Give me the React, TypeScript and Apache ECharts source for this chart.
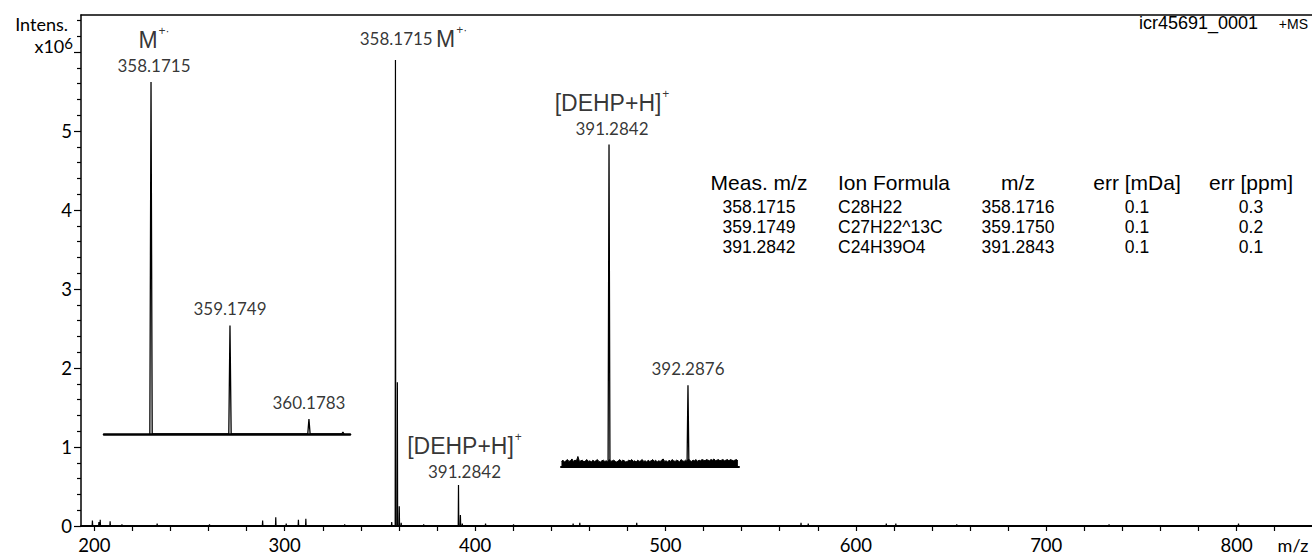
import React, { useEffect, useRef } from "react";
import * as echarts from "echarts";

// ---------- data ----------
// Main spectrum: stick peaks (m/z, intensity x10^6)
const mainMz = [
  199.0, 202.4, 203.1, 208.3, 214.5, 233.0, 260.5, 288.4, 295.3, 300.8,
  307.2, 311.1, 331.5, 356.2, 358.1715, 359.1749, 360.1783, 361.18, 373.0, 391.2842,
  392.2876, 393.29, 405.5, 420.2, 451.5, 455.0, 484.9, 571.2, 575.0, 616.0,
  621.0, 653.0, 733.0, 801.0,
];
const mainInt = [
  0.07, 0.05, 0.08, 0.06, 0.02, 0.03, 0.02, 0.07, 0.11, 0.03,
  0.08, 0.09, 0.02, 0.05, 5.9, 1.82, 0.25, 0.04, 0.02, 0.52,
  0.14, 0.03, 0.03, 0.02, 0.03, 0.04, 0.04, 0.04, 0.03, 0.03,
  0.03, 0.02, 0.02, 0.03,
];

// Inset 1: M+. isotope cluster
const inset1Mz = [358.1715, 359.1749, 360.1783, 360.61];
const inset1Int = [5.9, 1.82, 0.25, 0.03];

// Inset 2: [DEHP+H]+ isotope cluster
const inset2Mz = [391.2842, 392.2876];
const inset2Int = [0.52, 0.132];
const inset2NoiseStart = 390.68;
const inset2NoiseStep = 0.019;
const inset2Noise = [
  0.009, 0.011, 0.008, 0.010, 0.012, 0.009, 0.010, 0.013, 0.009, 0.011,
  0.010, 0.017, 0.009, 0.010, 0.011, 0.008, 0.010, 0.012, 0.009, 0.010,
  0.008, 0.011, 0.009, 0.010, 0.012, 0.009, 0.008, 0.010, 0.011, 0.009,
  0.010, 0.008, 0.012, 0.009, 0.010, 0.011, 0.009, 0.008, 0.010, 0.012,
  0.009, 0.011, 0.010, 0.008, 0.009, 0.011, 0.010, 0.012, 0.009, 0.010,
  0.008, 0.011, 0.009, 0.010, 0.012, 0.009, 0.010, 0.008, 0.011, 0.009,
  0.010, 0.012, 0.009, 0.011, 0.008, 0.010, 0.009, 0.011, 0.013, 0.009,
  0.010, 0.008, 0.011, 0.009, 0.012, 0.010, 0.009, 0.011, 0.010, 0.008,
  0.012, 0.010, 0.009, 0.011, 0.009, 0.013, 0.010, 0.009, 0.011, 0.010,
  0.012, 0.009, 0.011, 0.010, 0.012, 0.011, 0.010, 0.012, 0.011, 0.010,
  0.012, 0.011, 0.013, 0.010, 0.011, 0.012, 0.010, 0.011, 0.012, 0.010,
  0.011, 0.012, 0.010, 0.012, 0.011, 0.010, 0.011, 0.012, 0.010,
];

// Peak annotations
const mainLabelMz = [358.1715, 391.2842];
const mainLabelIon = ["M", "[DEHP+H]"];
const mainLabelCharge = ["+·", "+"];
const mainLabelMode = ["side", "stack"];
const inset1LabelMz = [358.1715, 359.1749, 360.1783];
const inset1LabelIon = ["M", "", ""];
const inset1LabelCharge = ["+·", "", ""];
const inset2LabelMz = [391.2842, 392.2876];
const inset2LabelIon = ["[DEHP+H]", ""];
const inset2LabelCharge = ["+", ""];

// Axis ticks
const xTickValues = [
  200, 220, 240, 260, 280, 300, 320, 340, 360, 380, 400, 420, 440, 460, 480, 500,
  520, 540, 560, 580, 600, 620, 640, 660, 680, 700, 720, 740, 760, 780, 800, 820,
];
const xLabelValues = [200, 300, 400, 500, 600, 700, 800];
const yMajorTicks = [0, 1, 2, 3, 4, 5, 6];
const yLabelValues = [0, 1, 2, 3, 4, 5];
const yMinorTicks = [
  0.2, 0.4, 0.6, 0.8, 1.2, 1.4, 1.6, 1.8, 2.2, 2.4, 2.6, 2.8, 3.2, 3.4, 3.6, 3.8,
  4.2, 4.4, 4.6, 4.8, 5.2, 5.4, 5.6, 5.8, 6.2, 6.4,
];

// Result table
const tableHeader = ["Meas. m/z", "Ion Formula", "m/z", "err [mDa]", "err [ppm]"];
const tableMeas = ["358.1715", "359.1749", "391.2842"];
const tableFormula = ["C28H22", "C27H22^13C", "C24H39O4"];
const tableCalc = ["358.1716", "359.1750", "391.2843"];
const tableErrMDa = ["0.1", "0.1", "0.1"];
const tableErrPpm = ["0.3", "0.2", "0.1"];

// ---------- helpers ----------
function sticks(mz: number[], inten: number[], half: number) {
  const out: number[][] = [];
  mz.forEach((m, i) => {
    out.push([m - half, 0], [m, inten[i]], [m + half, 0]);
  });
  return out;
}

function lookup(mz: number[], inten: number[], m: number) {
  const i = mz.indexOf(m);
  return i >= 0 ? inten[i] : 0;
}

const rich = {
  mz: { fontFamily: "Lato", fontSize: 17, color: "#000", lineHeight: 20 },
  ion: { fontFamily: "Liberation Sans", fontSize: 23, color: "#000", lineHeight: 30 },
  sup: {
    fontFamily: "Liberation Sans",
    fontSize: 12,
    color: "#000",
    lineHeight: 30,
    verticalAlign: "top",
    padding: [0, 0, 4, 1],
  },
};

function labelItems(
  ms: number[],
  ions: string[],
  charges: string[],
  modes: string[],
  mz: number[],
  inten: number[]
) {
  return ms.map((m, i) => {
    const ion = ions[i];
    let formatter = `{mz|${m.toFixed(4)}}`;
    let offset = [0, 0];
    if (ion) {
      if (modes[i] === "side") {
        formatter = `{mz|${m.toFixed(4)}} {ion|${ion}}{sup|${charges[i]}}`;
        offset = [18, 0];
      } else {
        formatter = `{ion|${ion}}{sup|${charges[i]}}\n{mz|${m.toFixed(4)}}`;
        offset = [3, 0];
      }
    }
    return {
      value: [m, lookup(mz, inten, m)],
      label: { show: true, position: "top", distance: 6, offset, formatter },
    };
  });
}

const labelSeriesBase = {
  type: "scatter",
  symbolSize: 1,
  itemStyle: { color: "rgba(0,0,0,0)" },
  silent: true,
  z: 5,
  label: { show: true, rich, color: "#000" },
};

export default function App() {
  const ref = useRef<HTMLDivElement>(null);

  useEffect(() => {
    if (!ref.current) return;
    const chart = echarts.init(ref.current, null, { renderer: "svg" });

    const tableCols = [759, 838, 1018, 1137, 1251];
    const tableHeaderY = 182;
    const rowY0 = 207;
    const rowDy = 20;
    const graphics: any[] = [];
    tableHeader.forEach((h, c) => {
      graphics.push({
        type: "text",
        x: c === 1 ? 894 : tableCols[c],
        y: tableHeaderY,
        style: {
          text: h,
          fill: "#000",
          fontFamily: "Liberation Sans",
          fontSize: 21,
          align: "center",
          verticalAlign: "middle",
        },
      });
    });
    const cols = [tableMeas, tableFormula, tableCalc, tableErrMDa, tableErrPpm];
    cols.forEach((col, c) => {
      col.forEach((v, r) => {
        graphics.push({
          type: "text",
          x: tableCols[c],
          y: rowY0 + r * rowDy,
          style: {
            text: v,
            fill: "#000",
            fontFamily: "Liberation Sans",
            fontSize: 17.5,
            align: c === 1 ? "left" : "center",
            verticalAlign: "middle",
          },
        });
      });
    });
    graphics.push(
      {
        type: "text",
        x: 1258,
        y: 23,
        style: {
          text: "icr45691_0001",
          fill: "#000",
          fontFamily: "Liberation Sans",
          fontSize: 18,
          align: "right",
          verticalAlign: "middle",
        },
      },
      {
        type: "text",
        x: 1308,
        y: 24,
        style: {
          text: "+MS",
          fill: "#000",
          fontFamily: "Liberation Sans",
          fontSize: 14,
          align: "right",
          verticalAlign: "middle",
        },
      },
      {
        type: "text",
        x: 68,
        y: 24,
        style: {
          text: "Intens.",
          fill: "#000",
          fontFamily: "Lato",
          fontSize: 18,
          align: "right",
          verticalAlign: "middle",
        },
      },
      {
        type: "text",
        x: 73,
        y: 46,
        style: {
          text: "{a|x10}{b|6}",
          rich: {
            a: { fontFamily: "Lato", fontSize: 18, fill: "#000", lineHeight: 22 },
            b: { fontFamily: "Lato", fontSize: 15, fill: "#000", lineHeight: 22, verticalAlign: "top", padding: [0, 0, 6, 0] },
          },
          align: "right",
          verticalAlign: "middle",
        },
      },
      {
        type: "text",
        x: 1293,
        y: 545,
        style: {
          text: "m/z",
          fill: "#000",
          fontFamily: "Lato",
          fontSize: 18,
          align: "center",
          verticalAlign: "middle",
        },
      }
    );

    const hiddenAxis = {
      axisTick: { show: false },
      axisLabel: { show: false },
      splitLine: { show: false },
    };

    chart.setOption({
      animation: false,
      backgroundColor: "#fff",
      grid: [
        { left: 81, right: 0, top: 15, bottom: 30 },
        { left: 104, width: 246, top: 64, height: 370 },
        { left: 561, width: 178, top: 126, height: 341 },
      ],
      xAxis: [
        {
          type: "value",
          gridIndex: 0,
          min: 193.0,
          max: 839.6,
          axisLine: { show: true, onZero: false, lineStyle: { color: "#000", width: 2 } },
          axisTick: { show: true, length: 5, customValues: xTickValues, lineStyle: { color: "#000", width: 1.2 } },
          axisLabel: {
            show: true,
            customValues: xLabelValues,
            color: "#000",
            fontFamily: "Lato",
            fontSize: 18.5,
            margin: 9,
          },
          splitLine: { show: false },
        },
        {
          type: "value",
          gridIndex: 0,
          position: "top",
          min: 193.0,
          max: 839.6,
          axisLine: { show: true, onZero: false, lineStyle: { color: "#000", width: 1.5 } },
          ...hiddenAxis,
        },
        {
          type: "value",
          gridIndex: 1,
          min: 357.574,
          max: 360.7,
          axisLine: { show: true, onZero: false, lineStyle: { color: "#000", width: 2.5 } },
          ...hiddenAxis,
        },
        {
          type: "value",
          gridIndex: 2,
          min: 390.674,
          max: 392.936,
          axisLine: { show: true, onZero: false, lineStyle: { color: "#000", width: 2 } },
          ...hiddenAxis,
        },
      ],
      yAxis: [
        {
          type: "value",
          gridIndex: 0,
          min: 0,
          max: 6.47,
          axisLine: { show: true, onZero: false, lineStyle: { color: "#000", width: 1.5 } },
          axisTick: { show: true, length: 7, customValues: yMajorTicks, lineStyle: { color: "#000", width: 1.2 } },
          axisLabel: {
            show: true,
            customValues: yLabelValues,
            color: "#000",
            fontFamily: "Lato",
            fontSize: 18.5,
            margin: 9,
          },
          splitLine: { show: false },
        },
        {
          type: "value",
          gridIndex: 0,
          min: 0,
          max: 6.47,
          position: "left",
          axisLine: { show: false },
          axisTick: { show: true, length: 4, customValues: yMinorTicks, lineStyle: { color: "#000", width: 1.2 } },
          axisLabel: { show: false },
          splitLine: { show: false },
        },
        { type: "value", gridIndex: 1, min: 0, max: 6.2, axisLine: { show: false }, ...hiddenAxis },
        { type: "value", gridIndex: 2, min: 0, max: 0.55, axisLine: { show: false }, ...hiddenAxis },
      ],
      series: [
        {
          type: "line",
          xAxisIndex: 0,
          yAxisIndex: 0,
          data: sticks(mainMz, mainInt, 0.15),
          symbol: "none",
          lineStyle: { color: "#000", width: 1.2 },
          silent: true,
        },
        {
          ...labelSeriesBase,
          xAxisIndex: 0,
          yAxisIndex: 0,
          data: labelItems(mainLabelMz, mainLabelIon, mainLabelCharge, mainLabelMode, mainMz, mainInt).map((d, i) =>
            i === 1 ? { ...d, label: { ...d.label, distance: 3, offset: [6, 0] } } : d
          ),
        },
        {
          type: "line",
          xAxisIndex: 2,
          yAxisIndex: 2,
          data: sticks(inset1Mz, inset1Int, 0.015),
          symbol: "none",
          lineStyle: { color: "#000", width: 1.3 },
          silent: true,
        },
        {
          ...labelSeriesBase,
          xAxisIndex: 2,
          yAxisIndex: 2,
          data: labelItems(inset1LabelMz, inset1LabelIon, inset1LabelCharge, ["stack", "", ""], inset1Mz, inset1Int),
        },
        {
          type: "line",
          xAxisIndex: 3,
          yAxisIndex: 3,
          data: inset2Noise.map((v, i) => [inset2NoiseStart + i * inset2NoiseStep, v]),
          symbol: "none",
          lineStyle: { color: "#000", width: 1 },
          areaStyle: { color: "#000", opacity: 1 },
          silent: true,
        },
        {
          type: "line",
          xAxisIndex: 3,
          yAxisIndex: 3,
          data: sticks(inset2Mz, inset2Int, 0.012),
          symbol: "none",
          lineStyle: { color: "#000", width: 1.3 },
          silent: true,
        },
        {
          ...labelSeriesBase,
          xAxisIndex: 3,
          yAxisIndex: 3,
          data: labelItems(inset2LabelMz, inset2LabelIon, inset2LabelCharge, ["stack", ""], inset2Mz, inset2Int),
        },
      ],
      graphic: graphics,
    });

    return () => chart.dispose();
  }, []);

  return (
    <div
      ref={ref}
      style={{ position: "fixed", left: 0, top: 0, width: 1312, height: 556, background: "#fff" }}
    />
  );
}
